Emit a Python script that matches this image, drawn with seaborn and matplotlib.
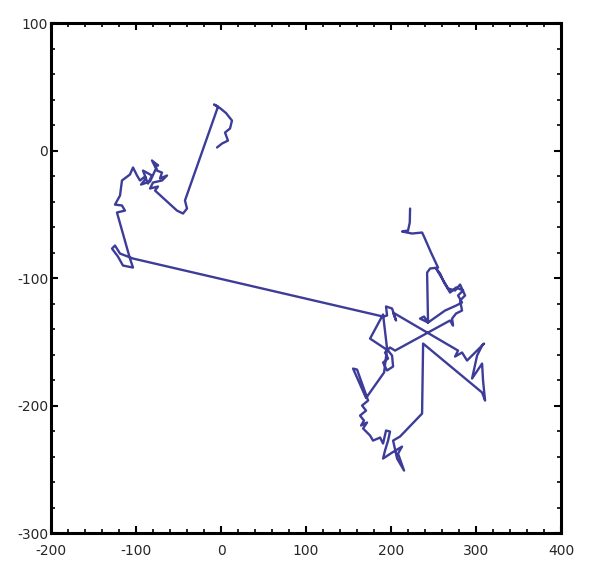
import numpy as np
import pandas as pd
import matplotlib
matplotlib.use("Agg")
import matplotlib.pyplot as plt
from matplotlib.ticker import MultipleLocator
import seaborn as sns

# random walk path (in order)
walk_x = [222.4, 222.0, 220.0, 213.0, 224.7, 236.5, 238.8, 247.0, 255.3, 246.0,
          242.4, 243.5, 234.1, 238.8, 243.5, 263.5, 276.5, 283.5, 278.8, 284.7,
          276.5, 269.4, 262.4, 257.7, 253.0, 260.0, 267.1, 275.3, 281.2, 287.1,
          281.2, 283.5, 276.5, 271.8, 272.9, 269.4, 204.7, 198.8, 192.9, 196.5,
          190.6, 195.3, 202.4, 201.2, 196.5, 175.3, 190.6, 195.3, 191.8, 170.6,
          155.3, 160.0, 173.0, 165.9, 170.6, 163.5, 168.2, 164.7, 171.8, 167.1,
          175.3, 178.8, 187.1, 190.6, 194.1, 198.8, 196.5, 192.9, 190.6, 201.2,
          212.9, 208.2, 215.3, 207.1, 202.4, 210.6, 236.5, 237.7, 307.1, 310.6,
          308.2, 307.1, 295.3, 301.2, 307.1, 309.4, 303.5, 289.4, 283.5, 275.3,
          278.8, 202.4, 205.9, 201.2, 194.1, 195.3, 190.6,
          -103.5, -118.8, -124.7, -128.2, -121.2, -115.3, -103.5, -107.1, -122.4, -113.0,
          -116.5, -124.7, -118.8, -116.5, -107.1, -103.5, -98.8, -95.3, -89.4, -85.9,
          -81.2, -91.8, -88.2, -94.1, -83.5, -76.5, -81.2, -74.1,
          -77.6, -75.3, -69.4, -71.8, -63.5, -69.4, -80.0, -83.5, -74.1,
          -77.6, -64.7, -51.8, -44.7, -40.0, -42.4, -3.5, -8.2, -1.2, 5.9,
          12.9, 10.6, 4.7, 8.2, 1.2, -4.7]
walk_y = [-45.5, -56.5, -62.7, -63.5, -65.1, -64.3, -67.5, -80.0, -91.8, -92.5,
          -95.7, -134.9, -131.8, -130.2, -134.9, -125.5, -121.6, -119.2, -113.7, -109.8,
          -107.4, -111.4, -103.5, -96.5, -92.5, -100.4, -108.2, -109.8, -105.1, -113.7,
          -117.6, -125.5, -127.8, -131.8, -137.3, -133.3, -156.9, -154.5, -158.4, -163.1,
          -166.3, -172.5, -169.4, -160.8, -156.9, -147.5, -128.6, -155.3, -174.1, -194.1,
          -171.0, -171.8, -196.1, -200.0, -204.0, -207.9, -211.8, -215.7, -213.3, -218.0,
          -223.5, -227.5, -225.1, -229.8, -219.6, -220.4, -227.5, -235.3, -241.6, -236.9,
          -232.2, -237.7, -251.0, -241.6, -227.5, -224.3, -206.3, -151.4, -189.8, -196.1,
          -180.4, -167.1, -178.8, -160.8, -153.0, -151.4, -155.3, -164.7, -158.4, -161.6,
          -156.9, -127.1, -133.3, -123.9, -122.3, -129.4, -130.2,
          -84.7, -80.8, -74.5, -76.9, -83.2, -90.2, -91.8, -84.7, -48.6, -47.1,
          -43.1, -42.4, -35.3, -23.5, -18.8, -13.3, -19.6, -23.5, -20.4, -25.9,
          -19.6, -15.7, -21.9, -26.7, -24.3, -14.1, -7.8, -11.8,
          -10.2, -15.7, -17.3, -21.9, -19.6, -23.5, -25.1, -29.8, -28.2,
          -31.4, -39.2, -47.1, -49.4, -45.5, -39.2, 34.5, 36.1, 33.3, 29.4,
          23.5, 17.3, 14.1, 7.8, 5.5, 2.4]

df = pd.DataFrame({"x": walk_x, "y": walk_y, "step": np.arange(len(walk_x))})

sns.set_style("white")
plt.rcParams["axes.unicode_minus"] = False
fig = plt.figure(figsize=(5.9, 5.79), dpi=100)
ax = fig.add_axes([0.0864, 0.0794, 0.8646, 0.8808])

sns.lineplot(data=df, x="x", y="y", sort=False, estimator=None,
             color="#3d3d99", linewidth=1.7, ax=ax)

ax.set_xlim(-200, 400)
ax.set_ylim(-300, 100)
ax.set_xticks([-200, -100, 0, 100, 200, 300, 400])
ax.set_yticks([-300, -200, -100, 0, 100])
ax.xaxis.set_minor_locator(MultipleLocator(20))
ax.yaxis.set_minor_locator(MultipleLocator(20))
ax.tick_params(which="both", direction="in", top=True, right=True,
               bottom=True, left=True, color="black")
ax.tick_params(which="major", length=5, width=1.5, labelsize=10)
ax.tick_params(which="minor", length=3, width=1.2)
ax.tick_params(axis="x", which="major", pad=8)
ax.tick_params(axis="y", which="major", pad=2)
ax.set_xlabel("")
ax.set_ylabel("")
for s in ax.spines.values():
    s.set_color("black")
    s.set_linewidth(2.2)

fig.savefig("out.png", dpi=100)
